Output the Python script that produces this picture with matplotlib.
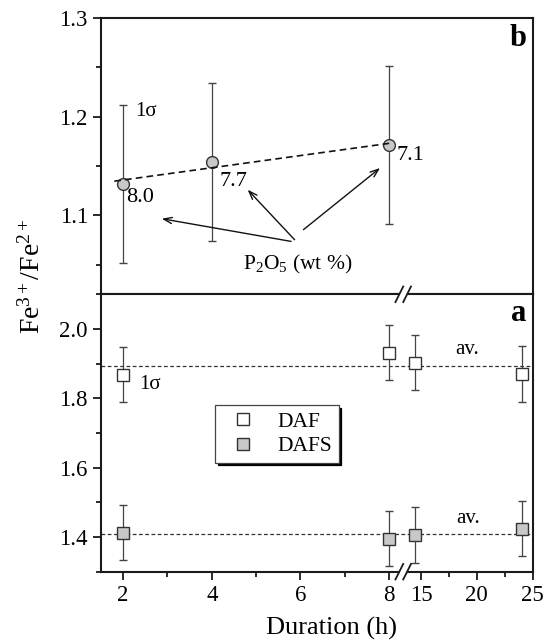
import numpy as np
import matplotlib
matplotlib.use("Agg")
import matplotlib.pyplot as plt
from matplotlib.lines import Line2D

plt.rcParams['font.family'] = ['Liberation Serif', 'DejaVu Serif']
plt.rcParams['mathtext.fontset'] = 'custom'
plt.rcParams['mathtext.rm'] = 'Liberation Serif'
plt.rcParams['mathtext.it'] = 'Liberation Serif:italic'

# panel b: Fe3+/Fe2+ vs duration with P2O5 content
b_hours = [2, 4, 8]
b_ratio = [1.132, 1.154, 1.171]
b_err = [0.08, 0.08, 0.08]
b_p2o5 = ['8.0', '7.7', '7.1']

# panel a: DAF and DAFS series
a_hours = [2, 8, 14.5, 24]
daf_ratio = [1.868, 1.932, 1.903, 1.870]
daf_err = [0.08, 0.08, 0.08, 0.08]
dafs_ratio = [1.413, 1.395, 1.406, 1.424]
dafs_err = [0.08, 0.08, 0.08, 0.08]

x_major = [2, 4, 6, 8, 15, 20, 25]
x_minor = [3, 5, 7, 17.5, 22.5]

# broken x axis: 1.5..8.31 linear, then 13.36..25 compressed
LO, HI, K = 8.31, 13.36, 0.2522


def fwd(x):
    x = np.asarray(x, dtype=float)
    return np.where(x <= LO, x, LO + np.clip(x - HI, 0, None) * K)


def inv(u):
    u = np.asarray(u, dtype=float)
    return np.where(u <= LO, u, HI + (u - LO) / K)


fig = plt.figure(figsize=(5.46, 6.42), dpi=100)
ax_b = fig.add_axes([0.185, 0.5416, 0.7907, 0.4304])
ax_a = fig.add_axes([0.185, 0.1095, 0.7907, 0.4321], sharex=ax_b)

grey = '#c8c8c8'
edge = '#333333'
ebc = '#444444'

for ax in (ax_a, ax_b):
    ax.set_xscale('function', functions=(fwd, inv))
    ax.set_xlim(1.5, 25)
    ax.set_xticks(x_major)
    ax.set_xticks(x_minor, minor=True)
    for s in ax.spines.values():
        s.set_linewidth(1.5)
        s.set_color('#1a1a1a')
    ax.tick_params(which='both', direction='out', width=1.3, color='#1a1a1a',
                   top=False, right=False, labelsize=16.5, pad=4)
    ax.tick_params(which='major', length=5.5)
    ax.tick_params(which='minor', length=3.5)

ax_b.tick_params(axis='x', which='both', labelbottom=False)
ax_a.set_xticklabels([str(v) for v in x_major])

# ---- panel b ----
ax_b.set_ylim(1.02, 1.3)
ax_b.set_yticks([1.1, 1.2, 1.3])
ax_b.set_yticklabels(['1.1', '1.2', '1.3'])
ax_b.set_yticks([1.05, 1.15, 1.25], minor=True)

coef = np.polyfit(b_hours, b_ratio, 1)
xf = np.array([1.8, 8.1])
ax_b.plot(xf, np.polyval(coef, xf), ls=(0, (4, 2.5)), color='#111111', lw=1.2, zorder=3)
ax_b.errorbar(b_hours, b_ratio, yerr=b_err, fmt='o', ms=8.5, mfc=grey, mec=edge,
              mew=1, ecolor=ebc, elinewidth=0.9, capsize=3, capthick=0.9, zorder=2)

lbl_pos = [(2.07, 1.118), (4.17, 1.134), (8.18, 1.161)]
for (lx, ly), t in zip(lbl_pos, b_p2o5):
    ax_b.text(lx, ly, t, fontsize=16, va='center', ha='left')
ax_b.text(2.27, 1.205, '1σ', fontsize=15, va='center', ha='left')
ax_b.text(5.95, 1.05, 'P$_2$O$_5$ (wt %)', fontsize=15.5, va='center', ha='center')
arrows = [((5.79, 1.0736), (2.87, 1.0966)),
          ((5.87, 1.0753), (4.81, 1.126)),
          ((6.07, 1.0855), (7.80, 1.148))]
for tail, head in arrows:
    ax_b.annotate('', xy=head, xytext=tail,
                  arrowprops=dict(arrowstyle='->,head_length=0.6,head_width=0.22',
                                  color='#111111', lw=1.0, shrinkA=0, shrinkB=0))
ax_b.text(0.985, 0.925, 'b', transform=ax_b.transAxes, fontsize=22,
          fontweight='bold', ha='right', va='center')

# ---- panel a ----
ax_a.set_ylim(1.3, 2.1)
ax_a.set_yticks([1.4, 1.6, 1.8, 2.0])
ax_a.set_yticklabels(['1.4', '1.6', '1.8', '2.0'])
ax_a.set_yticks([1.3, 1.5, 1.7, 1.9, 2.1], minor=True)

ax_a.axhline(np.mean(daf_ratio), ls=(0, (3, 2)), color='#333333', lw=0.9, zorder=1)
ax_a.axhline(np.mean(dafs_ratio), ls=(0, (3, 2)), color='#333333', lw=0.9, zorder=1)
ax_a.errorbar(a_hours, daf_ratio, yerr=daf_err, fmt='s', ms=8.5, mfc='white', mec=edge,
              mew=1, ecolor=ebc, elinewidth=0.9, capsize=3, capthick=0.9, zorder=2)
ax_a.errorbar(a_hours, dafs_ratio, yerr=dafs_err, fmt='s', ms=8.5, mfc=grey, mec=edge,
              mew=1, ecolor=ebc, elinewidth=0.9, capsize=3, capthick=0.9, zorder=2)

ax_a.text(2.36, 1.84, '1σ', fontsize=15, va='center', ha='left')
ax_a.text(19.1, 1.942, 'av.', fontsize=15, va='center', ha='center')
ax_a.text(19.2, 1.452, 'av.', fontsize=15, va='center', ha='center')
ax_a.text(0.985, 0.93, 'a', transform=ax_a.transAxes, fontsize=22,
          fontweight='bold', ha='right', va='center')

handles = [Line2D([], [], ls='none', marker='s', ms=8.5, mfc='white', mec=edge, mew=1),
           Line2D([], [], ls='none', marker='s', ms=8.5, mfc=grey, mec=edge, mew=1)]
leg = ax_a.legend(handles, ['DAF', 'DAFS'], loc='upper left', bbox_to_anchor=(0.264, 0.60),
                  borderaxespad=0, fontsize=15.5, frameon=True, fancybox=False,
                  shadow={'color': 'black', 'alpha': 1}, handlelength=2.0,
                  handletextpad=0.6, borderpad=0.3, labelspacing=0.2)
leg.get_frame().set_edgecolor('#444444')
leg.get_frame().set_linewidth(0.9)

# break marks on the x axis
fb = 0.697
for ax, yy in ((ax_a, 0.0), (ax_a, 1.0)):
    ax.add_patch(plt.Rectangle((fb - 0.004, yy - 0.01), 0.016, 0.02, transform=ax.transAxes,
                               facecolor='white', edgecolor='none', clip_on=False, zorder=5))
    for dx in (-0.006, 0.012):
        ax.plot([fb + dx - 0.009, fb + dx + 0.009], [yy - 0.028, yy + 0.028],
                transform=ax.transAxes, color='#1a1a1a', lw=1.3, clip_on=False, zorder=6)

fig.text(32 / 546, 1 - 276 / 642, 'Fe$^{3+}$/Fe$^{2+}$', rotation=90, fontsize=20,
         ha='center', va='center')
fig.text(331 / 546, 1 - 628 / 642, 'Duration (h)', fontsize=19, ha='center', va='center')

fig.savefig('out.png', dpi=100)
